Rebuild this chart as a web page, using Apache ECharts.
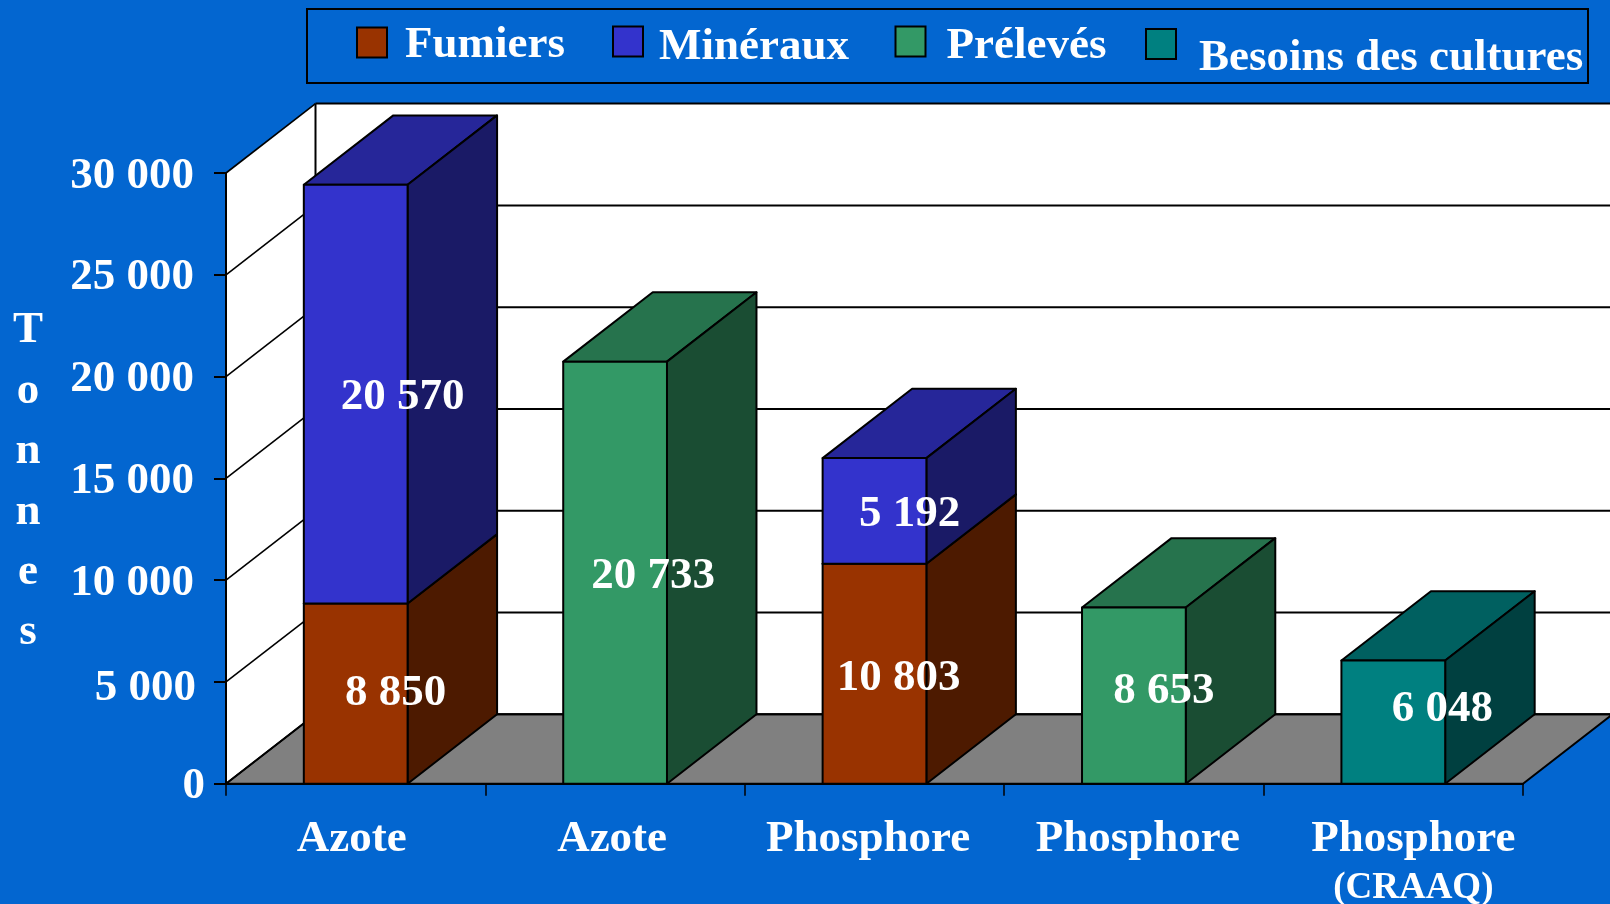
<!DOCTYPE html>
<html>
<head>
<meta charset="utf-8">
<title>Tonnes</title>
<script src="https://cdn.jsdelivr.net/npm/echarts@6/dist/echarts.min.js"></script>
<style>
  html, body { margin: 0; padding: 0; background: #0366d0; }
  #main { width: 1610px; height: 904px; }
</style>
</head>
<body>
<div id="main"></div>
<script>
// valeurs
const categories = ['Azote', 'Azote', 'Phosphore', 'Phosphore', 'Phosphore'];
const subLabels = ['', '', '', '', '(CRAAQ)'];
const yTicks = [0, 5000, 10000, 15000, 20000, 25000, 30000];
const fumiers = [8850, null, 10803, null, null];
const mineraux = [20570, null, 5192, null, null];
const preleves = [null, 20733, null, 8653, null];
const besoins = [null, null, null, null, 6048];

const FONT = '"Liberation Serif", serif';
const DX = 89.5, DY = 69.4;   // profondeur de la fausse 3D
const BAR_RATIO = 0.4;

const fmt = v => String(v).replace(/\B(?=(\d{3})+$)/g, ' ');

// decalage des etiquettes par rapport au centre de la face avant [x, y]
const fumiersNudge = [[40, 0], null, [24, 5], null, null];
const minerauxNudge = [[47, 3], null, [35, 3], null, null];
const prelevesNudge = [null, [38, 4], null, [30, -4], null];
const besoinsNudge = [null, null, null, null, [49, -13]];
// decalage horizontal des noms de categories
const catPad = [[0, 8, 0, 0], [0, 6, 0, 0], [0, 13, 0, 0], [0, 0, 0, 8], [0, 0, 0, 40]];

function poly(points, fill) {
    return {
        type: 'polygon',
        shape: { points: points },
        style: { fill: fill, stroke: '#000', lineWidth: 2, lineJoin: 'round' }
    };
}

function line(x1, y1, x2, y2, w) {
    return {
        type: 'line',
        shape: { x1: x1, y1: y1, x2: x2, y2: y2 },
        style: { stroke: '#000', lineWidth: w, fill: null }
    };
}

function renderWalls(params, api) {
    const c = params.coordSys;
    const l = c.x, r = c.x + c.width, t = c.y, b = c.y + c.height;
    return {
        type: 'group',
        children: [
            { type: 'polygon', shape: { points: [[l + DX, t - DY], [r + DX, t - DY], [r + DX, b - DY], [l + DX, b - DY]] }, style: { fill: '#fff' } },
            { type: 'polygon', shape: { points: [[l, t], [l + DX, t - DY], [l + DX, b - DY], [l, b]] }, style: { fill: '#fff' } },
            poly([[l, b], [l + DX, b - DY], [r + DX, b - DY], [r, b]], '#808080'),
            line(l + DX, t - DY, l + DX, b - DY, 2)
        ]
    };
}

function renderGridLine(params, api) {
    const c = params.coordSys;
    const y = api.coord([0, api.value(1)])[1];
    const l = c.x, r = c.x + c.width;
    return {
        type: 'group',
        children: [
            line(l, y, l + DX, y - DY, 1.6),
            line(l + DX, y - DY, r + DX, y - DY, 2)
        ]
    };
}

function barRenderer(colors, nudges) {
    return function (params, api) {
        const cat = api.value(0), base = api.value(1), top = api.value(2);
        const p0 = api.coord([cat, base]);
        const p1 = api.coord([cat, top]);
        const w = api.size([1, 0])[0] * BAR_RATIO;
        const x1 = p0[0] - w / 2, x2 = p0[0] + w / 2;
        const nudge = nudges[cat];
        return {
            type: 'group',
            children: [
                poly([[x1, p1[1]], [x2, p1[1]], [x2 + DX, p1[1] - DY], [x1 + DX, p1[1] - DY]], colors[1]),
                poly([[x2, p0[1]], [x2 + DX, p0[1] - DY], [x2 + DX, p1[1] - DY], [x2, p1[1]]], colors[2]),
                poly([[x1, p0[1]], [x2, p0[1]], [x2, p1[1]], [x1, p1[1]]], colors[0]),
                {
                    type: 'text',
                    x: p0[0] + nudge[0],
                    y: (p0[1] + p1[1]) / 2 + nudge[1],
                    style: {
                        text: fmt(top - base),
                        fill: '#fff',
                        fontFamily: FONT,
                        fontWeight: 'bold',
                        fontSize: 45,
                        align: 'center',
                        verticalAlign: 'middle'
                    }
                }
            ]
        };
    };
}

// empile les valeurs par categorie, dans l'ordre des series
const stackTop = categories.map(() => 0);
function barData(values) {
    const out = [];
    values.forEach((v, i) => {
        if (v === null) return;
        out.push([i, stackTop[i], stackTop[i] + v]);
        stackTop[i] += v;
    });
    return out;
}

function barSeries(name, values, colors, nudges) {
    return {
        name: name,
        type: 'custom',
        itemStyle: { color: colors[0] },
        encode: { x: 0, y: 2 },
        data: barData(values),
        renderItem: barRenderer(colors, nudges),
        z: 3
    };
}

function legendItem(name, left, top, pad) {
    return {
        data: [name],
        left: left,
        top: top,
        padding: 0,
        itemWidth: 30,
        itemHeight: 30,
        icon: 'rect',
        selectedMode: false,
        itemStyle: { borderColor: '#000', borderWidth: 2 },
        formatter: '{t|{name}}',
        textStyle: {
            color: '#fff',
            fontFamily: FONT,
            fontWeight: 'bold',
            fontSize: 45,
            rich: { t: { color: '#fff', fontFamily: FONT, fontWeight: 'bold', fontSize: 45, padding: pad } }
        }
    };
}

const catRich = { s: { fontSize: 37, fontFamily: FONT, fontWeight: 'bold', color: '#fff', lineHeight: 46, padding: [0, 0, 0, 40] } };
catPad.forEach((p, i) => {
    catRich['c' + i] = { fontSize: 45, fontFamily: FONT, fontWeight: 'bold', color: '#fff', lineHeight: 52, padding: p };
});

const nameStyle = { color: '#fff', fontFamily: FONT, fontWeight: 'bold', fontSize: 45, lineHeight: 60.4 };

const option = {
    backgroundColor: '#0366d0',
    animation: false,
    grid: { left: 226, top: 173, width: 1297, height: 610.7, outerBoundsMode: 'none' },
    legend: [
        legendItem('Fumiers', 356, 23, [6, 0, 0, 13]),
        legendItem('Minéraux', 612, 25, [12, 0, 0, 11]),
        legendItem('Prélevés', 894.5, 24, [10, 0, 0, 16]),
        legendItem('Besoins des cultures', 1145, 28, [28, 0, 0, 18])
    ],
    graphic: [{
        type: 'rect',
        shape: { x: 307, y: 9, width: 1281, height: 74 },
        style: { fill: null, stroke: '#000', lineWidth: 2 },
        silent: true
    }],
    xAxis: {
        type: 'category',
        data: categories,
        z: 6,
        axisLine: { lineStyle: { color: '#000', width: 2 } },
        axisTick: { show: true, length: 12, lineStyle: { color: '#000', width: 1.5 } },
        axisLabel: {
            interval: 0,
            margin: 30,
            color: '#fff',
            fontFamily: FONT,
            fontWeight: 'bold',
            fontSize: 45,
            rich: catRich,
            formatter: function (value, i) {
                const first = '{c' + i + '|' + value + '}';
                return subLabels[i] ? first + '\n{s|' + subLabels[i] + '}' : first;
            }
        }
    },
    yAxis: {
        type: 'value',
        min: 0,
        max: 30000,
        interval: 5000,
        z: 6,
        name: '{t|T}\n{t|o}\n{t|n}\n{t|n}\n{t|e}\n{t|s}',
        nameLocation: 'middle',
        nameGap: 198,
        nameRotate: 0,
        nameTextStyle: Object.assign({}, nameStyle, {
            align: 'center',
            rich: { t: Object.assign({}, nameStyle, { padding: [7, 0, 0, 0] }) }
        }),
        axisLine: { show: true, lineStyle: { color: '#000', width: 2 } },
        axisTick: { show: true, length: 12, lineStyle: { color: '#000', width: 2 } },
        splitLine: { show: false },
        axisLabel: {
            margin: 21,
            color: '#fff',
            fontFamily: FONT,
            fontWeight: 'bold',
            fontSize: 45,
            rich: {
                a: { fontFamily: FONT, fontWeight: 'bold', fontSize: 45, color: '#fff', padding: [6, 11, 0, 0] },
                b: { fontFamily: FONT, fontWeight: 'bold', fontSize: 45, color: '#fff', padding: [12, 9, 0, 0] },
                z: { fontFamily: FONT, fontWeight: 'bold', fontSize: 45, color: '#fff', padding: [6, 0, 0, 0] }
            },
            formatter: function (v) {
                const key = v === 0 ? 'z' : (v === 5000 ? 'b' : 'a');
                return '{' + key + '|' + fmt(v) + '}';
            }
        }
    },
    series: [
        { type: 'custom', encode: { x: 0, y: 1 }, data: [[0, 0]], renderItem: renderWalls, z: 1, silent: true },
        { type: 'custom', encode: { x: 0, y: 1 }, data: yTicks.map(v => [0, v]), renderItem: renderGridLine, z: 2, silent: true },
        barSeries('Fumiers', fumiers, ['#993300', '#732600', '#4d1a00'], fumiersNudge),
        barSeries('Minéraux', mineraux, ['#3333cc', '#262699', '#1a1a66'], minerauxNudge),
        barSeries('Prélevés', preleves, ['#339966', '#26734d', '#1a4d33'], prelevesNudge),
        barSeries('Besoins des cultures', besoins, ['#008080', '#006060', '#004040'], besoinsNudge)
    ]
};

const chart = echarts.init(document.getElementById('main'));
chart.setOption(option);
</script>
</body>
</html>
